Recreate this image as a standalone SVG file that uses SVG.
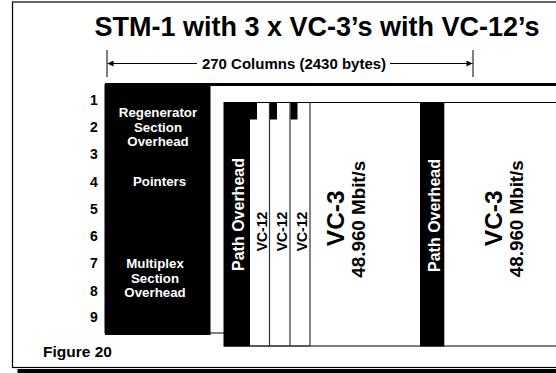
<svg xmlns="http://www.w3.org/2000/svg" width="556" height="373" viewBox="0 0 556 373">
<style>
text{font-family:"Liberation Sans",Arial,Helvetica,sans-serif;font-weight:bold;fill:#000}
.w{fill:#fff}
.rn{font-size:14px;text-anchor:middle}
.oh{font-size:13.3px;text-anchor:middle;fill:#fff}
.po{font-size:16px;text-anchor:middle;fill:#fff}
.v12{font-size:14px;text-anchor:middle}
.v3{font-size:24.5px;text-anchor:middle}
.rate{font-size:18.8px;text-anchor:middle}
.col{stroke:#333;stroke-width:1.2}
</style>
<defs>
<marker id="ah" viewBox="0 0 10 10" refX="10" refY="5" markerWidth="8" markerHeight="6" markerUnits="userSpaceOnUse" orient="auto">
<path d="M0,0 L10,5 L0,10 z" fill="#000"/>
</marker>
</defs>
<g id="frame">
<rect x="17.5" y="369" width="545" height="5" fill="#000"/>
<rect x="12.5" y="2" width="560" height="365.5" fill="#fff" stroke="#000" stroke-width="1.2"/>
</g>
<g id="title">
<text x="317" y="35.5" font-size="27" text-anchor="middle">STM-1 with 3 x VC-3’s with VC-12’s</text>
</g>
<g id="connectors">
<line x1="107" y1="50" x2="107" y2="77" stroke="#000" stroke-width="1"/>
<line x1="473" y1="50" x2="473" y2="77" stroke="#000" stroke-width="1"/>
<line x1="197" y1="63.5" x2="107.5" y2="63.5" stroke="#000" stroke-width="1" marker-end="url(#ah)"/>
<line x1="390" y1="63.5" x2="472.5" y2="63.5" stroke="#000" stroke-width="1" marker-end="url(#ah)"/>
<text x="294" y="68.5" font-size="15" text-anchor="middle">270 Columns (2430 bytes)</text>
</g>
<g id="row-numbers">
<text class="rn" x="94" y="105">1</text>
<text class="rn" x="94" y="132">2</text>
<text class="rn" x="94" y="159">3</text>
<text class="rn" x="94" y="186.5">4</text>
<text class="rn" x="94" y="213.5">5</text>
<text class="rn" x="94" y="240.5">6</text>
<text class="rn" x="94" y="268">7</text>
<text class="rn" x="94" y="295.5">8</text>
<text class="rn" x="94" y="322">9</text>
</g>
<g id="stm1-frame">
<rect x="105" y="84.5" width="460" height="248.5" fill="#fff" stroke="#000" stroke-width="1"/>
<rect x="105" y="83" width="460" height="3" fill="#000"/>
</g>
<g id="section-overhead">
<rect x="105" y="83" width="105.5" height="252" fill="#000"/>
<text class="oh" x="158" y="117">Regenerator</text>
<text class="oh" x="158" y="131.5">Section</text>
<text class="oh" x="158" y="146">Overhead</text>
<text class="oh" x="159.5" y="186">Pointers</text>
<text class="oh" x="155" y="268">Multiplex</text>
<text class="oh" x="155" y="282.5">Section</text>
<text class="oh" x="155" y="297">Overhead</text>
</g>
<g id="vc3-area">
<rect x="224" y="102.5" width="340" height="243.5" fill="#fff" stroke="#000" stroke-width="1"/>
</g>
<g id="vc3-1-poh">
<rect x="224" y="102.5" width="26" height="244" fill="#000"/>
<text class="po" transform="translate(243.5,214.5) rotate(-90)">Path Overhead</text>
</g>
<g id="vc12-columns">
<line class="col" x1="250" y1="346" x2="310" y2="346"/>
<line class="col" x1="269.5" y1="102.5" x2="269.5" y2="346"/>
<line class="col" x1="290" y1="102.5" x2="290" y2="346"/>
<line class="col" x1="310" y1="102.5" x2="310" y2="346"/>
<rect x="250" y="102.5" width="7" height="17" fill="#000"/>
<rect x="270" y="102.5" width="7" height="17" fill="#000"/>
<rect x="290.5" y="102.5" width="7" height="17" fill="#000"/>
</g>
<g id="vc12-1"><text class="v12" transform="translate(266.5,231.5) rotate(-90)">VC-12</text></g>
<g id="vc12-2"><text class="v12" transform="translate(286.5,231.5) rotate(-90)">VC-12</text></g>
<g id="vc12-3"><text class="v12" transform="translate(306.5,231.5) rotate(-90)">VC-12</text></g>
<g id="vc3-1-label">
<text class="v3" transform="translate(343.5,218.3) rotate(-90)">VC-3</text>
<text class="rate" transform="translate(365,219.2) rotate(-90)">48.960 Mbit/s</text>
</g>
<g id="vc3-2-poh">
<rect x="420" y="102.5" width="24.3" height="244" fill="#000"/>
<text class="po" transform="translate(439.5,215.5) rotate(-90)">Path Overhead</text>
</g>
<g id="vc3-2-label">
<text class="v3" transform="translate(501.5,218.3) rotate(-90)">VC-3</text>
<text class="rate" transform="translate(523,218.7) rotate(-90)">48.960 Mbit/s</text>
</g>
<g id="caption">
<text x="43" y="357" font-size="15.5">Figure 20</text>
</g>
</svg>
